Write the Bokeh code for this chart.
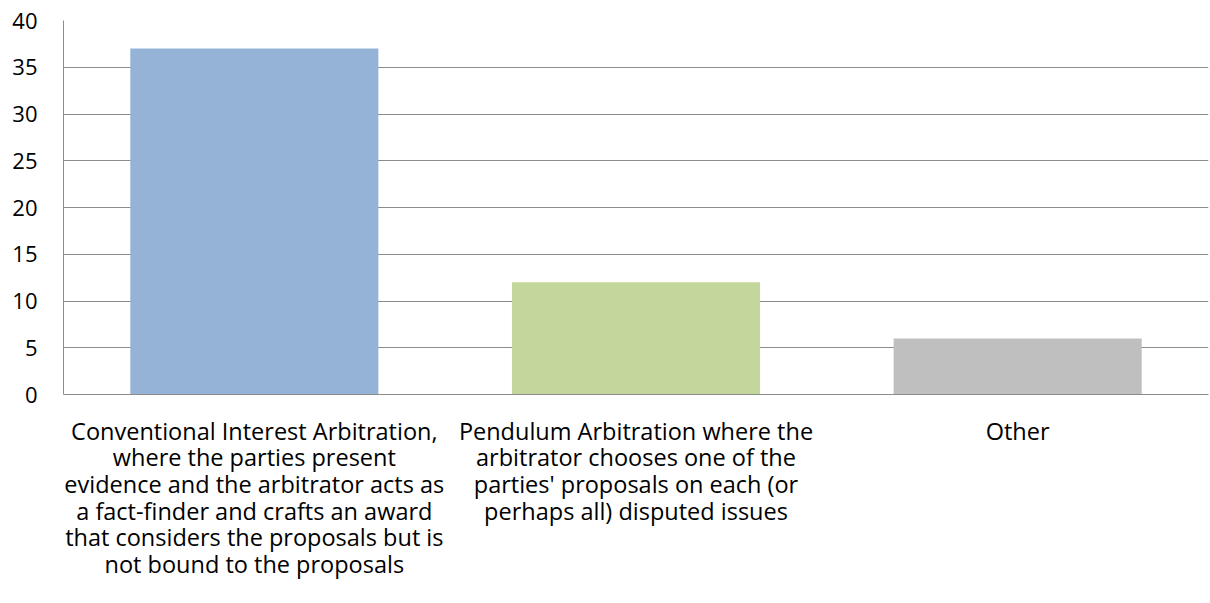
from bokeh.plotting import figure
from bokeh.models import FactorRange, Range1d, FixedTicker
from bokeh.embed import file_html
from bokeh.resources import INLINE

categories = [
    "Conventional Interest Arbitration,\nwhere the parties present\nevidence and the arbitrator acts as\na fact-finder and crafts an award\nthat considers the proposals but is\nnot bound to the proposals",
    "Pendulum Arbitration where the\narbitrator chooses one of the\nparties' proposals on each (or\nperhaps all) disputed issues",
    "Other",
]
values = [37, 12, 6]
colors = ["#95B3D7", "#C3D69B", "#BFBFBF"]
y_ticks = [0, 5, 10, 15, 20, 25, 30, 35, 40]

FONT = "Open Sans"

p = figure(
    width=1210, height=603,
    x_range=FactorRange(*categories, range_padding=0),
    y_range=Range1d(0, 40),
    output_backend="svg", toolbar_location=None,
    min_border_left=63, min_border_right=2, min_border_top=20, min_border_bottom=209,
)
p.vbar(x=categories, top=values, width=0.65, color=colors, line_color=None)

p.outline_line_color = None
p.background_fill_color = "white"
p.border_fill_color = "white"

p.xgrid.grid_line_color = None
p.ygrid.grid_line_color = "#8c8c8c"
p.ygrid.grid_line_width = 1
p.yaxis.ticker = FixedTicker(ticks=y_ticks)

for ax in (p.xaxis, p.yaxis):
    ax.axis_line_color = "#8c8c8c"
    ax.axis_line_width = 1
    ax.major_tick_line_color = None
    ax.minor_tick_line_color = None
    ax.major_tick_out = 0
    ax.major_tick_in = 0
    ax.major_label_text_font = FONT
    ax.major_label_text_color = "black"

p.yaxis.major_label_text_font_size = "22px"
p.xaxis.major_label_text_font_size = "23.5px"
p.yaxis.major_label_standoff = 26
p.xaxis.major_label_standoff = 20
p.xaxis.major_label_text_line_height = 0.835
p.xaxis.major_label_text_align = "center"

open("out.html", "w").write(file_html(p, INLINE))
